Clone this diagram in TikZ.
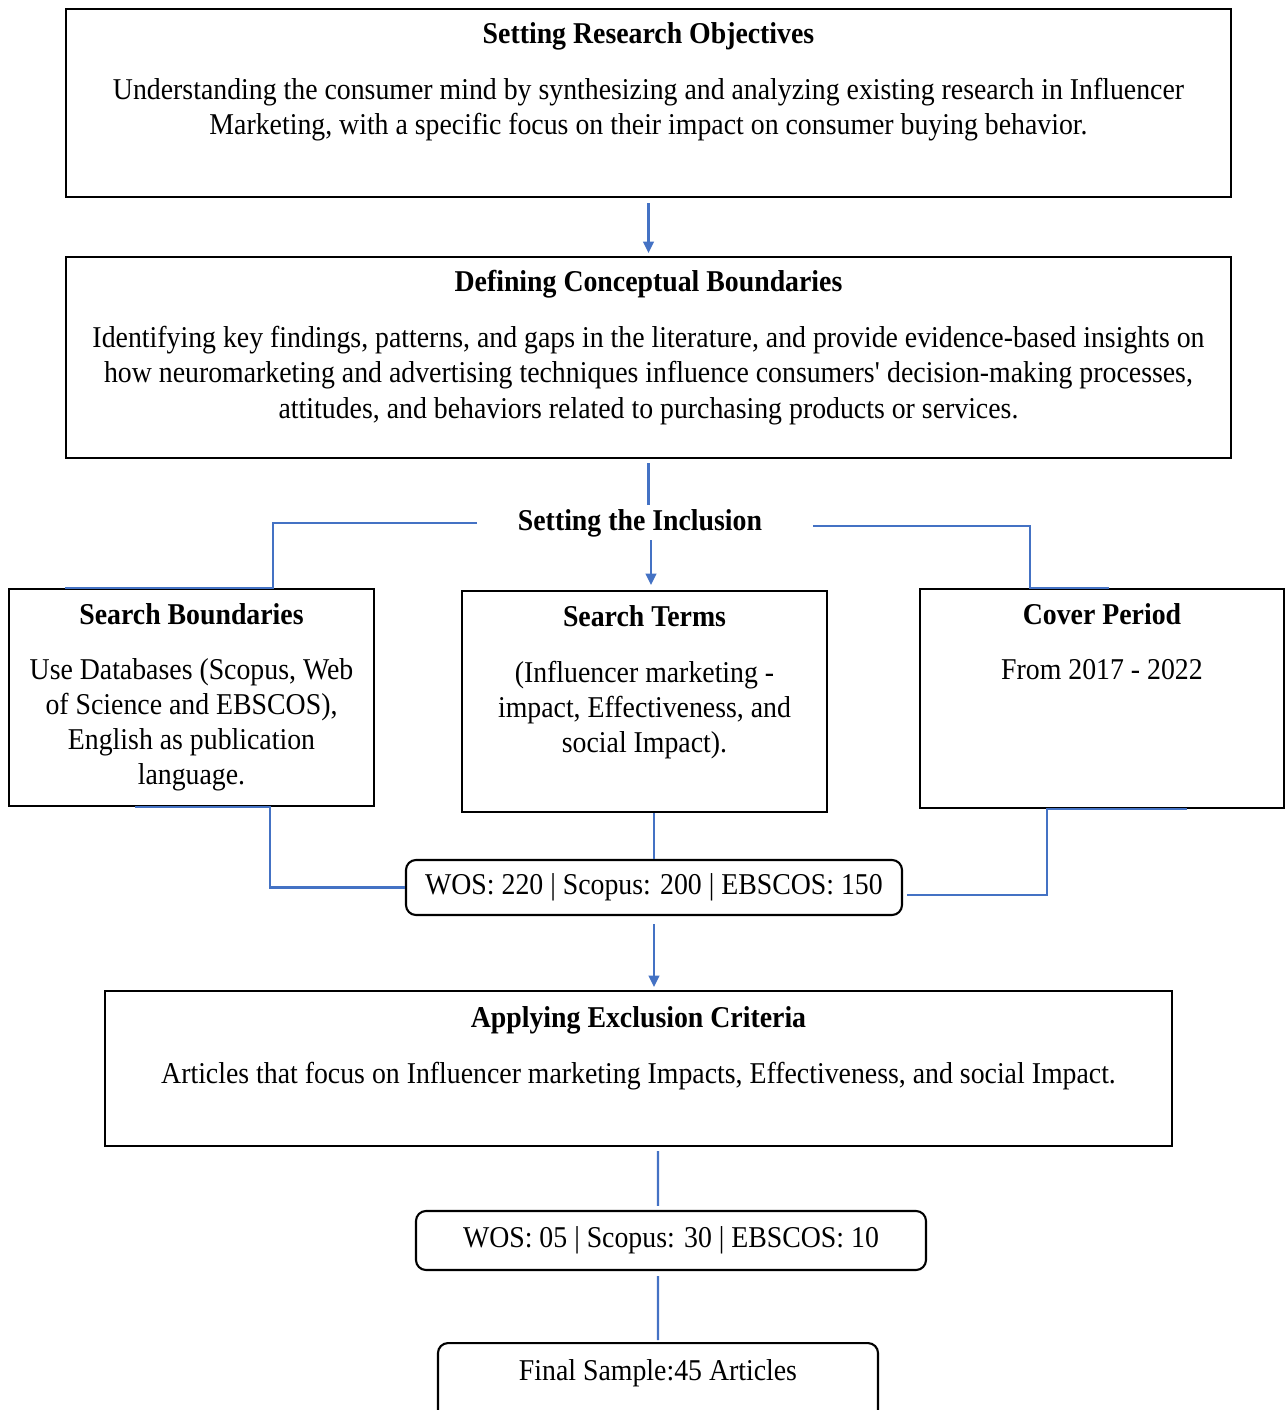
\documentclass[tikz,border=0pt]{standalone}
\usepackage{fontspec}
\setmainfont{Liberation Serif}[FakeStretch=0.92]
\usetikzlibrary{positioning,arrows.meta}
\definecolor{linkblue}{RGB}{68,114,196}
\tikzset{
  box/.style={draw, line width=0.6pt, inner sep=0pt},
  cnt/.style={draw, line width=0.6pt, rounded corners=1mm, inner sep=0pt, font=\fontsize{8.6}{10}\selectfont},
  txt/.style={align=center, inner sep=0pt, font=\fontsize{8.6}{10}\selectfont},
  link/.style={color=linkblue, line width=0.6pt},
  arr/.style={link, -{Triangle[length=3.2pt,width=3pt]}},
}
\begin{document}
\begin{tikzpicture}

\useasboundingbox (0,0) rectangle (12.85,-14.10);

\node[box, minimum width=11.65cm, minimum height=1.88cm] (obj) at (6.485,-1.03) {};
\node[txt, below=0.14cm of obj.north] (objT) {\textbf{Setting Research Objectives}\\[5.9pt]
  Understanding the consumer mind by synthesizing and analyzing existing research in Influencer\\
  Marketing, with a specific focus on their impact on consumer buying behavior.};

\node[box, minimum width=11.65cm, minimum height=2.01cm] (concept) at (6.485,-3.575) {};
\node[txt, below=0.14cm of concept.north] (conceptT) {\textbf{Defining Conceptual Boundaries}\\[5.9pt]
  Identifying key findings, patterns, and gaps in the literature, and provide evidence-based insights on\\
  how neuromarketing and advertising techniques influence consumers\textquotesingle\ decision-making processes,\\
  attitudes, and behaviors related to purchasing products or services.};

\node[txt, inner xsep=0.4cm, inner ysep=0.1cm] (incl) at (6.40,-5.23) {\textbf{Setting the Inclusion}};

\node[box, minimum width=3.65cm, minimum height=2.17cm] (bound) at (1.915,-6.975) {};
\node[txt, below=0.15cm of bound.north] (boundT) {\textbf{Search Boundaries}\\[5.6pt]
  Use Databases (Scopus, Web\\ of Science and EBSCOS),\\ English as publication\\ language.};

\node[box, minimum width=3.65cm, minimum height=2.21cm] (terms) at (6.445,-7.015) {};
\node[txt, below=0.15cm of terms.north] (termsT) {\textbf{Search Terms}\\[5.9pt]
  (Influencer marketing -\\ impact, Effectiveness, and\\ social Impact).};

\node[box, minimum width=3.64cm, minimum height=2.19cm] (period) at (11.02,-6.985) {};
\node[txt, below=0.15cm of period.north] (periodT) {\textbf{Cover Period}\\[5.7pt]
  From 2017 - 2022};

\node[cnt, minimum width=4.96cm, minimum height=0.55cm] (count1) at (6.54,-8.875) {WOS: 220 | Scopus: 200 | EBSCOS: 150};

\node[box, minimum width=10.67cm, minimum height=1.55cm] (excl) at (6.385,-10.685) {};
\node[txt, below=0.16cm of excl.north] (exclT) {\textbf{Applying Exclusion Criteria}\\[5.9pt]
  Articles that focus on Influencer marketing Impacts, Effectiveness, and social Impact.};

\node[cnt, minimum width=5.10cm, minimum height=0.59cm] (count2) at (6.71,-12.405) {WOS: 05 | Scopus: 30 | EBSCOS: 10};

\node[cnt, minimum width=4.40cm, minimum height=0.85cm, anchor=north] (final) at (6.58,-13.42) {};
\node[txt, below=0.17cm of final.north] (finalT) {Final Sample:45 Articles};

\coordinate (inclTop) at (6.485,-5.05);
\coordinate (inclBot) at (6.51,-5.40);

\draw[arr] ([yshift=-0.5mm]obj.south) -- ([yshift=0.3mm]concept.north);
\draw[link] ([yshift=-0.4mm]concept.south) -- (inclTop);
\draw[arr, shorten >=0.5mm] (inclBot) -- (inclBot |- terms.north);
\draw[link] (incl.west) -| ([xshift=8.15mm]bound.north) -- ([xshift=5.7mm]bound.north west);
\draw[link] ([shift={(1mm,-0.3mm)}]incl.east) -| ([xshift=-7.2mm]period.north) -- ([xshift=0.7mm]period.north);

\draw[link] ([xshift=-5.65mm]bound.south) -- ([xshift=7.85mm]bound.south) |- (count1.west);
\draw[link] (count1.north |- terms.south) -- (count1.north);
\draw[link] ([xshift=8.5mm]period.south) -- ([xshift=-5.5mm]period.south) |- ([shift={(0.4mm,-0.75mm)}]count1.east);

\draw[arr] ([yshift=-0.8mm]count1.south) -- ([yshift=0.3mm]count1.south |- excl.north);
\draw[link] ([xshift=1.95mm,yshift=-0.4mm]excl.south) -- ([xshift=-1.3mm,yshift=0.4mm]count2.north);
\draw[link] ([xshift=-1.3mm,yshift=-0.5mm]count2.south) -- ([yshift=0.2mm]final.north);

\end{tikzpicture}
\end{document}
